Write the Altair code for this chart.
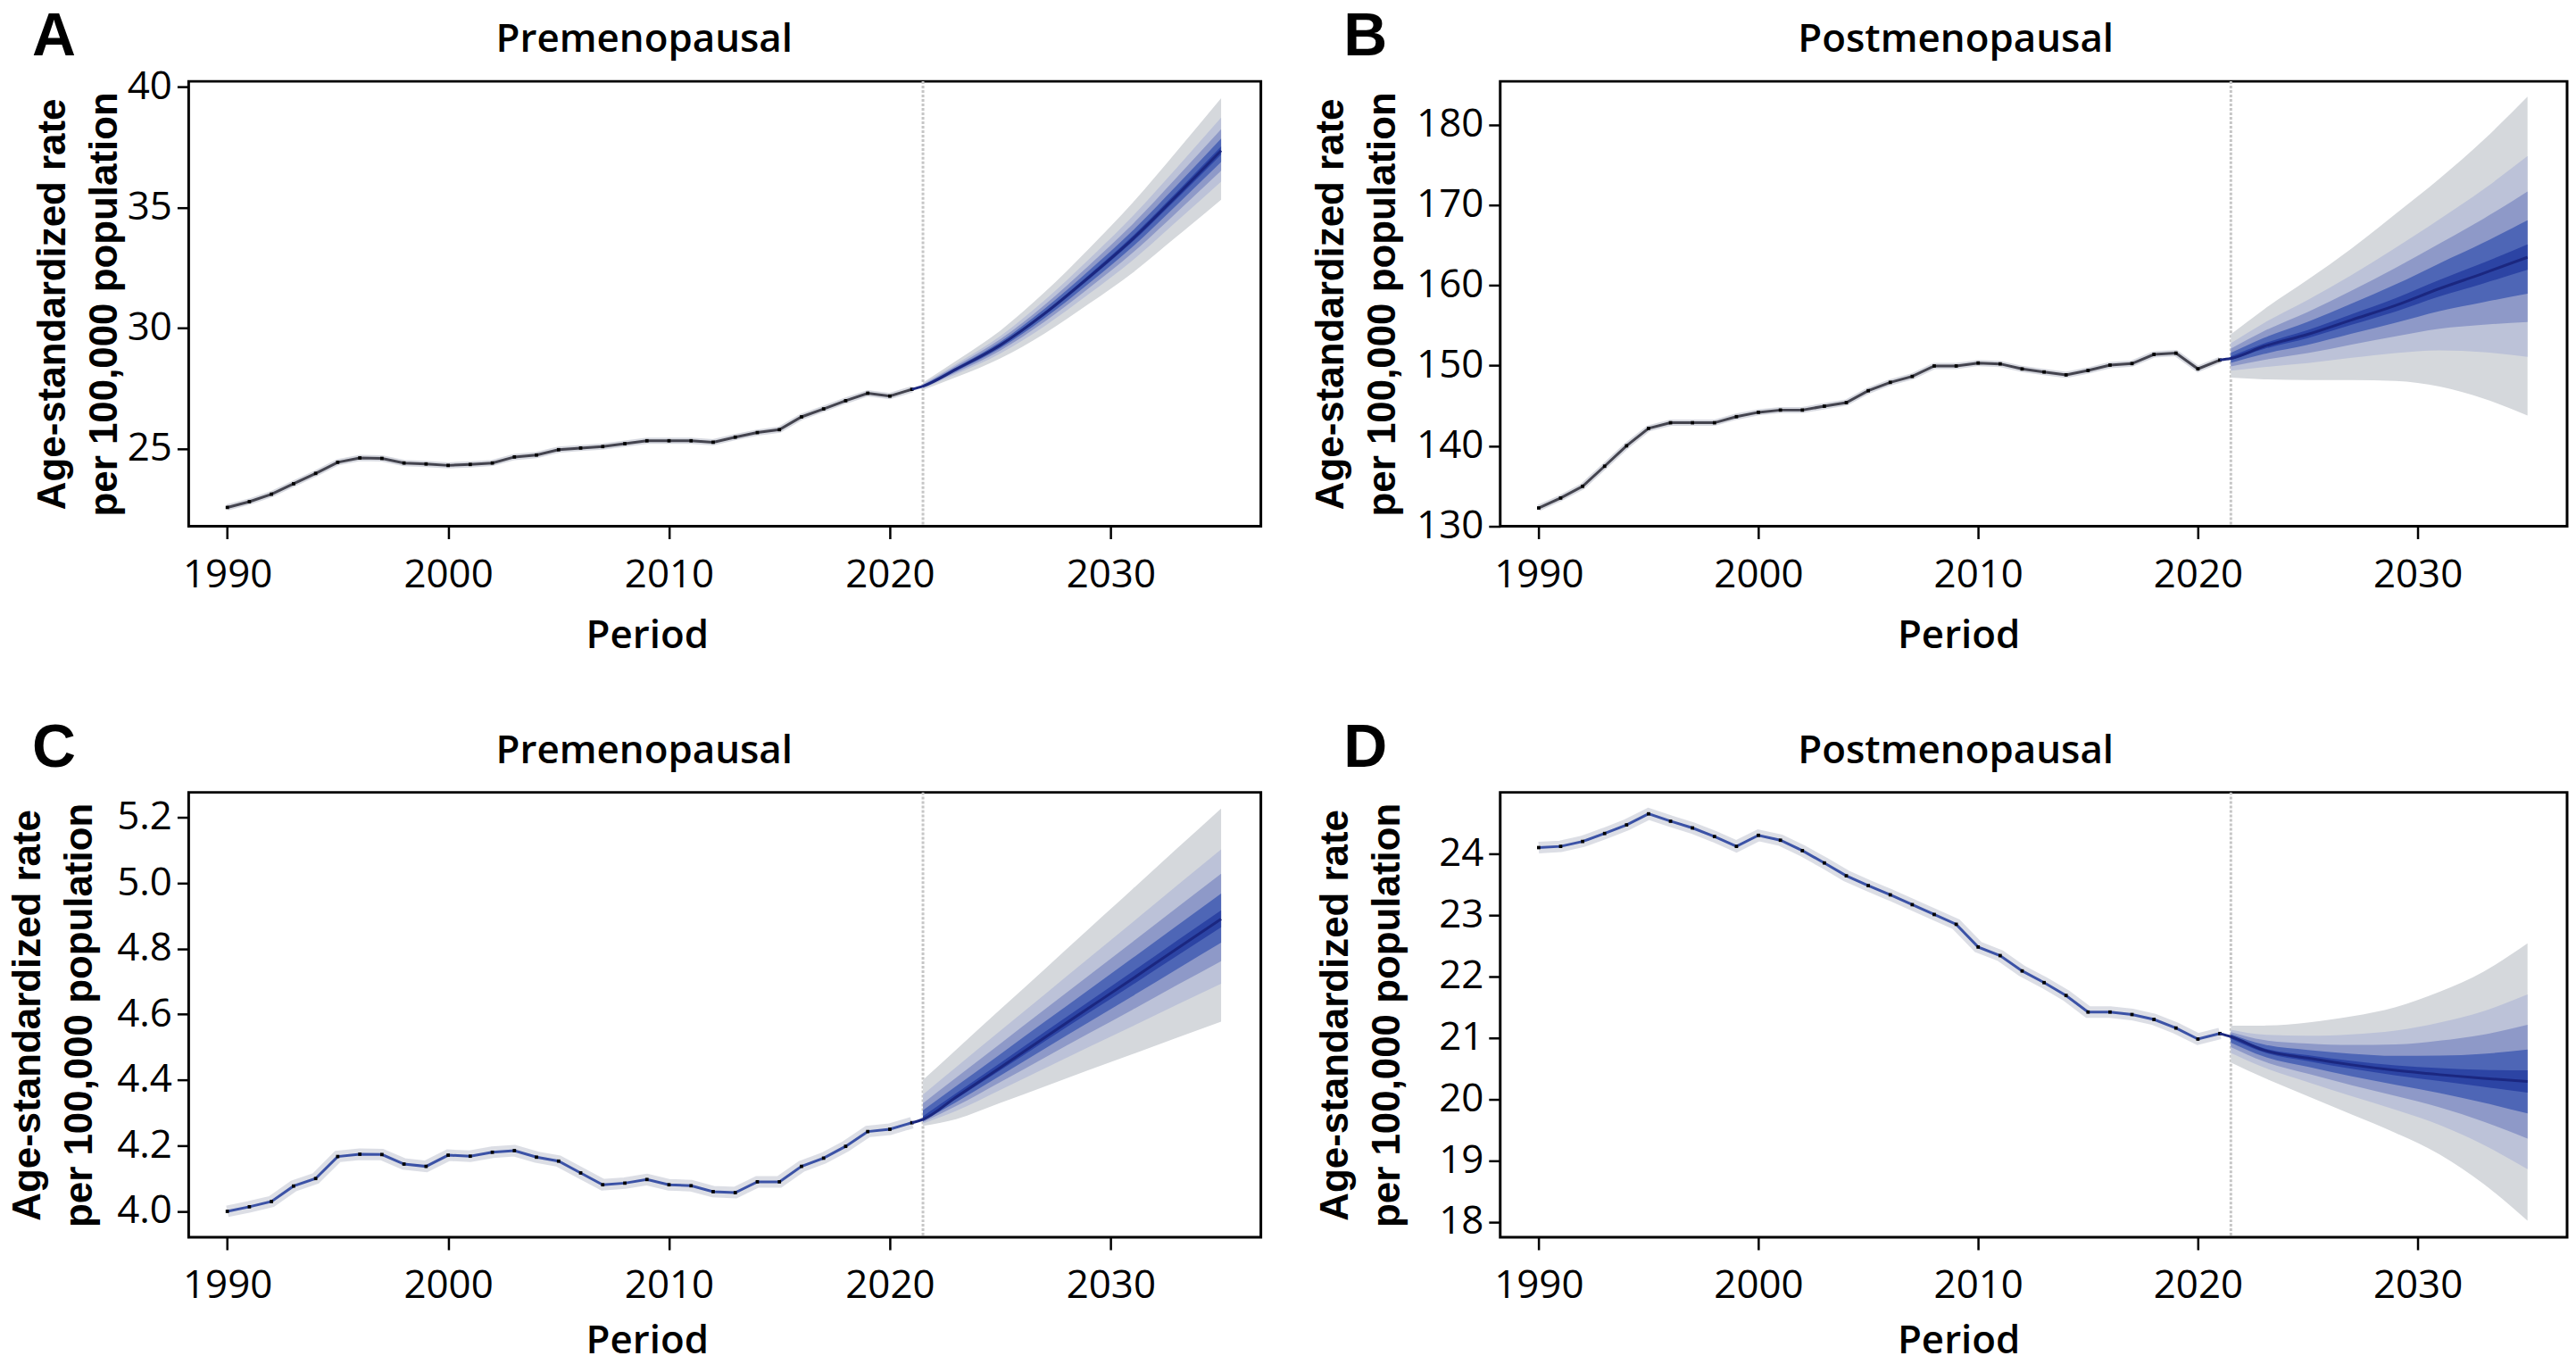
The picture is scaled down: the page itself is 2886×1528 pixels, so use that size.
import altair as alt
import pandas as pd

# ---------------- data ----------------
HIST_YEARS = list(range(1990, 2022))
FC_YEARS = [2021.5, 2023, 2025, 2027, 2029, 2031, 2033, 2035]
CUT_YEAR = 2021.5
X_TICKS = [1990, 2000, 2010, 2020, 2030]
X_DOMAIN = [1988.25, 2036.8]

# Panel A - premenopausal (incidence)
A_HIST = [22.58, 22.82, 23.13, 23.56, 23.99, 24.45, 24.63, 24.61, 24.42, 24.38,
          24.32, 24.36, 24.42, 24.67, 24.75, 24.97, 25.04, 25.10, 25.22, 25.34,
          25.34, 25.34, 25.28, 25.49, 25.68, 25.80, 26.33, 26.66, 27.00, 27.31,
          27.19, 27.47]
A_MED = [27.6, 28.3, 29.3, 30.6, 32.1, 33.7, 35.5, 37.35]
A_HI = [27.75, 28.65, 29.9, 31.48, 33.28, 35.2, 37.33, 39.52]
A_LO = [27.45, 27.97, 28.75, 29.78, 31.0, 32.3, 33.8, 35.32]

# Panel B - postmenopausal (incidence)
B_HIST = [132.28, 133.52, 134.98, 137.48, 140.02, 142.19, 142.89, 142.89, 142.89, 143.65,
          144.19, 144.47, 144.47, 144.95, 145.4, 146.88, 147.92, 148.66, 149.96, 149.96,
          150.33, 150.22, 149.59, 149.21, 148.85, 149.4, 150.07, 150.26, 151.4, 151.56,
          149.6, 150.7]
B_MED = [150.9, 152.4, 153.9, 155.7, 157.5, 159.6, 161.5, 163.5]
B_HI = [153.9, 157.0, 160.7, 164.6, 168.9, 173.3, 178.1, 183.5]
B_LO = [148.5, 148.3, 148.2, 148.2, 148.1, 147.4, 145.9, 143.8]

# Panel C - premenopausal (mortality)
C_HIST = [4.00, 4.014, 4.03, 4.077, 4.10, 4.167, 4.174, 4.173, 4.144, 4.137,
          4.171, 4.168, 4.18, 4.185, 4.165, 4.153, 4.117, 4.081, 4.086, 4.097,
          4.081, 4.078, 4.06, 4.057, 4.09, 4.09, 4.137, 4.162, 4.198, 4.243,
          4.25, 4.27]
C_MED = [4.28, 4.348, 4.438, 4.529, 4.619, 4.709, 4.80, 4.89]
C_HI = [4.40, 4.492, 4.615, 4.737, 4.86, 4.982, 5.105, 5.227]
C_LO = [4.26, 4.281, 4.33, 4.38, 4.43, 4.479, 4.529, 4.578]

# Panel D - postmenopausal (mortality)
D_HIST = [24.10, 24.12, 24.2, 24.33, 24.47, 24.65, 24.53, 24.42, 24.28, 24.12,
          24.3, 24.22, 24.05, 23.85, 23.64, 23.48, 23.33, 23.17, 23.01, 22.85,
          22.48, 22.34, 22.09, 21.9, 21.69, 21.42, 21.42, 21.38, 21.3, 21.16,
          20.98, 21.07]
D_MED = [21.02, 20.8, 20.67, 20.56, 20.47, 20.4, 20.34, 20.29]
D_HI = [21.2, 21.2, 21.25, 21.35, 21.5, 21.75, 22.08, 22.54]
D_LO = [20.6, 20.35, 20.05, 19.75, 19.45, 19.1, 18.62, 18.02]

# fan levels: share of the outer interval covered by each band (outer -> inner)
BAND_FRAC = [1.0, 0.63, 0.41, 0.23, 0.08]
BAND_COLORS = ["#d5d8dc", "#bcc2d8", "#8e99c8", "#4e66b6", "#2c44a4"]

Y_TITLE = ["Age-standardized rate", "per 100,000 population"]

PANELS = [
    dict(letter="A", title="Premenopausal", hist=A_HIST, med=A_MED, hi=A_HI, lo=A_LO,
         ydom=[21.8, 40.22], yticks=[25, 30, 35, 40], yfmt="d", tx=-139, w=1205,
         line="#44444f", halo="#cdd0d8", halo_w=7, xty=136),
    dict(letter="B", title="Postmenopausal", hist=B_HIST, med=B_MED, hi=B_HI, lo=B_LO,
         ydom=[130, 185.4], yticks=[130, 140, 150, 160, 170, 180], yfmt="d", tx=-177, w=1199,
         line="#44444f", halo="#cdd0d8", halo_w=7, xty=136),
    dict(letter="C", title="Premenopausal", hist=C_HIST, med=C_MED, hi=C_HI, lo=C_LO,
         ydom=[3.921, 5.276], yticks=[4.0, 4.2, 4.4, 4.6, 4.8, 5.0, 5.2], yfmt=".1f", tx=-167, w=1205,
         line="#3b52a6", halo="#d3d6df", halo_w=13, xty=130),
    dict(letter="D", title="Postmenopausal", hist=D_HIST, med=D_MED, hi=D_HI, lo=D_LO,
         ydom=[17.75, 25.0], yticks=[18, 19, 20, 21, 22, 23, 24], yfmt="d", tx=-172, w=1199,
         line="#3b52a6", halo="#d3d6df", halo_w=13, xty=130),
]

FONT = "Open Sans"


def make_panel(p):
    xaxis = alt.Axis(values=X_TICKS, format="d", title="Period", titleX=515, titleY=p["xty"],
                     titleBaseline="alphabetic", titleAlign="center", titleFont=FONT,
                     titleFontSize=44, titleFontWeight=600, titleColor="black",
                     labelFont=FONT, labelFontSize=44, labelColor="black",
                     labelBaseline="alphabetic", labelPadding=54, labelFlush=False,
                     tickSize=14, tickWidth=2.5, tickColor="black", domain=False, grid=False)
    yaxis = alt.Axis(values=p["yticks"], format=p["yfmt"], title=Y_TITLE, titleX=p["tx"],
                     titleY=250, titleAngle=270, titleBaseline="alphabetic", titleAlign="center",
                     titleLineHeight=58, titleFont="Liberation Sans", titleFontSize=44,
                     titleFontWeight="bold", titleColor="black", labelFont=FONT,
                     labelFontSize=44, labelColor="black", labelPadding=6, tickSize=13,
                     tickWidth=2.5, tickColor="black", domain=False, grid=False)
    X = alt.X("year:Q", scale=alt.Scale(domain=X_DOMAIN, nice=False, zero=False), axis=xaxis)
    Y = alt.Y("v:Q", scale=alt.Scale(domain=p["ydom"], nice=False, zero=False), axis=yaxis)

    hist = pd.DataFrame({"year": HIST_YEARS, "v": p["hist"]})
    med = pd.DataFrame({"year": [HIST_YEARS[-1]] + FC_YEARS, "v": [p["hist"][-1]] + p["med"]})

    layers = []
    layers.append(alt.Chart(pd.DataFrame({"year": [CUT_YEAR]}))
                  .mark_rule(color="#c6c6c6", strokeWidth=3, strokeDash=[3, 2]).encode(x=X))
    layers.append(alt.Chart(hist).mark_line(color=p["halo"], strokeWidth=p["halo_w"], opacity=0.8)
                  .encode(x=X, y=Y))
    layers.append(alt.Chart(hist).mark_line(color=p["line"], strokeWidth=3).encode(x=X, y=Y))
    layers.append(alt.Chart(hist).mark_square(size=14, color="black", opacity=1).encode(x=X, y=Y))
    for frac, col in zip(BAND_FRAC, BAND_COLORS):
        band = pd.DataFrame({
            "year": FC_YEARS,
            "v": [m - frac * (m - l) for m, l in zip(p["med"], p["lo"])],
            "v2": [m + frac * (h - m) for m, h in zip(p["med"], p["hi"])],
        })
        layers.append(alt.Chart(band).mark_area(color=col, opacity=1, interpolate="monotone")
                      .encode(x=X, y=Y, y2="v2:Q"))
    layers.append(alt.Chart(med).mark_line(color="#1b2780", strokeWidth=3, interpolate="monotone")
                  .encode(x=X, y=Y))
    layers.append(alt.Chart(pd.DataFrame({"t": [p["letter"]]}))
                  .mark_text(align="left", baseline="alphabetic", font="Liberation Sans",
                             fontSize=68, fontWeight="bold", color="black")
                  .encode(text="t:N", x=alt.value(-176), y=alt.value(-29)))
    layers.append(alt.Chart(pd.DataFrame({"t": [p["title"]]}))
                  .mark_text(align="center", baseline="alphabetic", font=FONT, fontSize=44,
                             fontWeight=600, color="black")
                  .encode(text="t:N", x=alt.value(512), y=alt.value(-33)))
    return alt.layer(*layers).properties(width=p["w"], height=500)


panels = [make_panel(p) for p in PANELS]
chart = alt.concat(*panels, columns=2, spacing={"row": 67, "column": 53}).properties(
    padding={"left": 0, "top": -4, "right": 0, "bottom": 0},
    background="white",
).configure_view(stroke="black", strokeWidth=3)

chart.save("out.html", embed_options={"renderer": "svg", "actions": False})
